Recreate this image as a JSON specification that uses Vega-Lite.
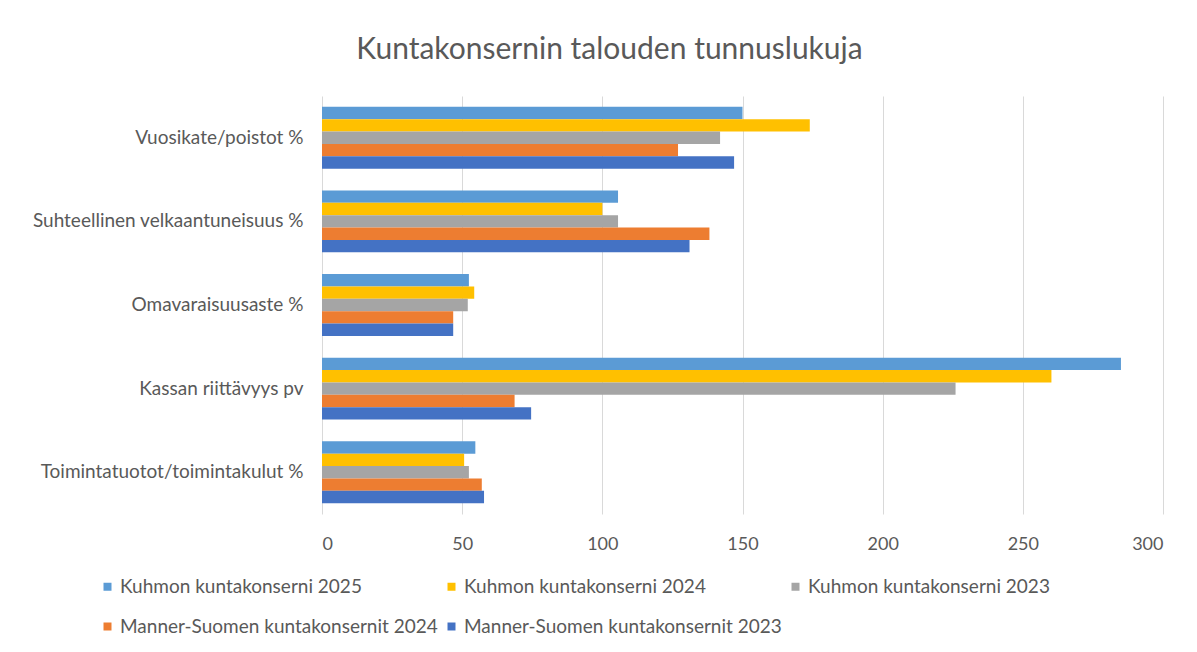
{
  "$schema": "https://vega.github.io/schema/vega-lite/v6.json",
  "width": 841,
  "height": 418,
  "autosize": {"type": "none"},
  "padding": {"left": 322, "top": 96, "right": 34, "bottom": 138},
  "background": "white",
  "title": {
    "text": "Kuntakonsernin talouden tunnuslukuja",
    "font": "Lato",
    "fontSize": 30,
    "fontWeight": "normal",
    "color": "#595959",
    "anchor": "middle",
    "frame": "group",
    "dx": -133,
    "offset": 31
  },
  "data": {
    "values": [
      {"category": "Vuosikate/poistot %", "series": "Kuhmon kuntakonserni 2025", "value": 150},
      {"category": "Vuosikate/poistot %", "series": "Kuhmon kuntakonserni 2024", "value": 174},
      {"category": "Vuosikate/poistot %", "series": "Kuhmon kuntakonserni 2023", "value": 142},
      {"category": "Vuosikate/poistot %", "series": "Manner-Suomen kuntakonsernit 2024", "value": 127},
      {"category": "Vuosikate/poistot %", "series": "Manner-Suomen kuntakonsernit 2023", "value": 147},
      {"category": "Suhteellinen velkaantuneisuus %", "series": "Kuhmon kuntakonserni 2025", "value": 105.6},
      {"category": "Suhteellinen velkaantuneisuus %", "series": "Kuhmon kuntakonserni 2024", "value": 100},
      {"category": "Suhteellinen velkaantuneisuus %", "series": "Kuhmon kuntakonserni 2023", "value": 105.6},
      {"category": "Suhteellinen velkaantuneisuus %", "series": "Manner-Suomen kuntakonsernit 2024", "value": 138.2},
      {"category": "Suhteellinen velkaantuneisuus %", "series": "Manner-Suomen kuntakonsernit 2023", "value": 131.1},
      {"category": "Omavaraisuusaste %", "series": "Kuhmon kuntakonserni 2025", "value": 52.4},
      {"category": "Omavaraisuusaste %", "series": "Kuhmon kuntakonserni 2024", "value": 54.3},
      {"category": "Omavaraisuusaste %", "series": "Kuhmon kuntakonserni 2023", "value": 52.0},
      {"category": "Omavaraisuusaste %", "series": "Manner-Suomen kuntakonsernit 2024", "value": 46.8},
      {"category": "Omavaraisuusaste %", "series": "Manner-Suomen kuntakonsernit 2023", "value": 46.8},
      {"category": "Kassan riittävyys pv", "series": "Kuhmon kuntakonserni 2025", "value": 285},
      {"category": "Kassan riittävyys pv", "series": "Kuhmon kuntakonserni 2024", "value": 260.2},
      {"category": "Kassan riittävyys pv", "series": "Kuhmon kuntakonserni 2023", "value": 226},
      {"category": "Kassan riittävyys pv", "series": "Manner-Suomen kuntakonsernit 2024", "value": 68.7},
      {"category": "Kassan riittävyys pv", "series": "Manner-Suomen kuntakonsernit 2023", "value": 74.6},
      {"category": "Toimintatuotot/toimintakulut %", "series": "Kuhmon kuntakonserni 2025", "value": 54.7},
      {"category": "Toimintatuotot/toimintakulut %", "series": "Kuhmon kuntakonserni 2024", "value": 50.7},
      {"category": "Toimintatuotot/toimintakulut %", "series": "Kuhmon kuntakonserni 2023", "value": 52.4},
      {"category": "Toimintatuotot/toimintakulut %", "series": "Manner-Suomen kuntakonsernit 2024", "value": 57.0},
      {"category": "Toimintatuotot/toimintakulut %", "series": "Manner-Suomen kuntakonsernit 2023", "value": 57.8}
    ]
  },
  "mark": {"type": "bar", "cornerRadius": 0},
  "encoding": {
    "y": {
      "field": "category",
      "type": "nominal",
      "sort": ["Vuosikate/poistot %", "Suhteellinen velkaantuneisuus %", "Omavaraisuusaste %", "Kassan riittävyys pv", "Toimintatuotot/toimintakulut %"],
      "scale": {"paddingInner": 0.26, "paddingOuter": 0.13},
      "axis": {
        "title": null,
        "ticks": false,
        "domain": false,
        "grid": false,
        "labelFont": "Lato",
        "labelFontSize": 19,
        "labelColor": "#595959",
        "labelPadding": 19,
        "labelLimit": 400
      }
    },
    "yOffset": {
      "field": "series",
      "type": "nominal",
      "sort": ["Kuhmon kuntakonserni 2025", "Kuhmon kuntakonserni 2024", "Kuhmon kuntakonserni 2023", "Manner-Suomen kuntakonsernit 2024", "Manner-Suomen kuntakonsernit 2023"],
      "scale": {"paddingInner": 0, "paddingOuter": 0}
    },
    "x": {
      "field": "value",
      "type": "quantitative",
      "scale": {"domain": [0, 300], "nice": false},
      "axis": {
        "title": null,
        "values": [0, 50, 100, 150, 200, 250, 300],
        "ticks": false,
        "domain": false,
        "grid": true,
        "gridColor": "#d9d9d9",
        "gridWidth": 1,
        "labelFont": "Lato",
        "labelFontSize": 18,
        "labelColor": "#595959",
        "labelPadding": 21
      }
    },
    "color": {
      "field": "series",
      "type": "nominal",
      "scale": {
        "domain": ["Kuhmon kuntakonserni 2025", "Kuhmon kuntakonserni 2024", "Kuhmon kuntakonserni 2023", "Manner-Suomen kuntakonsernit 2024", "Manner-Suomen kuntakonsernit 2023"],
        "range": ["#5B9BD5", "#FFC000", "#A5A5A5", "#ED7D31", "#4472C4"]
      },
      "legend": {
        "title": null,
        "orient": "none",
        "legendX": -224,
        "legendY": 481,
        "direction": "horizontal",
        "columns": 3,
        "columnPadding": 4,
        "rowPadding": 20,
        "symbolType": "square",
        "symbolSize": 64,
        "symbolStrokeWidth": 0,
        "labelFont": "Lato",
        "labelFontSize": 19,
        "labelColor": "#595959",
        "labelOffset": 3,
        "labelLimit": 400
      }
    }
  },
  "config": {
    "view": {"stroke": null}
  }
}
